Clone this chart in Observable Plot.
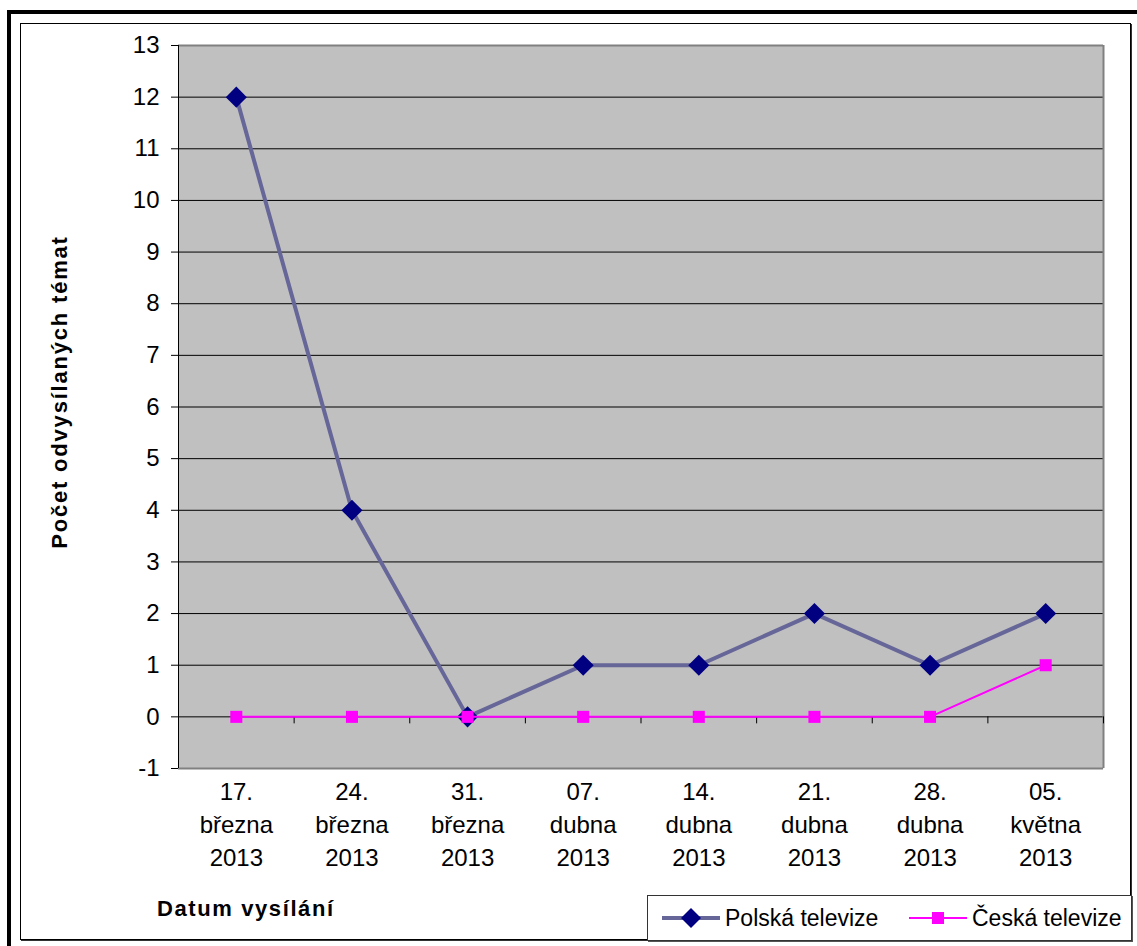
<!DOCTYPE html>
<html><head><meta charset="utf-8">
<script src="https://cdn.jsdelivr.net/npm/d3@7"></script>
<script src="https://cdn.jsdelivr.net/npm/@observablehq/plot@0.6"></script>
<style>
body{margin:0;background:#fff;}
#wrap{position:relative;width:1137px;height:946px;overflow:hidden;font-family:"Liberation Sans",Arial,sans-serif;color:#000;}
#chart{position:absolute;left:0;top:0;}
#outer{position:absolute;left:7px;top:10px;width:1200px;height:1000px;border-left:4px solid #000;border-top:4px solid #000;pointer-events:none;}
#inner{position:absolute;left:20px;top:23px;width:1109px;height:915px;border:1px solid #000;box-shadow:1px 1px 0 #333;pointer-events:none;}
#ytitle{position:absolute;left:60px;top:392px;transform:translate(-50%,-50%) rotate(-90deg);font-weight:bold;font-size:22px;letter-spacing:1.8px;white-space:nowrap;}
#xtitle{position:absolute;left:157px;top:896px;font-weight:bold;font-size:22px;letter-spacing:1.6px;white-space:nowrap;}
#legend{position:absolute;left:647px;top:895px;width:483px;height:44px;border:1px solid #333;background:#fff;box-shadow:1px 1px 0 #555;}
.item{position:absolute;top:0;height:44px;display:flex;align-items:center;font-size:23px;white-space:nowrap;}
.item svg{display:block;margin-right:5px;}
</style></head>
<body>
<div id="wrap">
  <div id="chart"></div>
  <div id="outer"></div>
  <div id="inner"></div>
  <div id="ytitle">Počet odvysílaných témat</div>
  <div id="xtitle">Datum vysílání</div>
  <div id="legend"></div>
</div>
<script>
const dates = ["17.\nbřezna\n2013","24.\nbřezna\n2013","31.\nbřezna\n2013","07.\ndubna\n2013","14.\ndubna\n2013","21.\ndubna\n2013","28.\ndubna\n2013","05.\nkvětna\n2013"];
const polska = [12, 4, 0, 1, 1, 2, 1, 2];
const ceska = [0, 0, 0, 0, 0, 0, 0, 1];
const yTicks = [-1,0,1,2,3,4,5,6,7,8,9,10,11,12,13];
const seriesNames = ["Polská televize", "Česká televize"];
const lineColors = ["#666699", "#FF00FF"];
const markColors = ["#000080", "#FF00FF"];

const idx = d3.range(dates.length);
const bounds = idx.map(i => i + 0.5);

const chart = Plot.plot({
  width: 1137, height: 946,
  marginLeft: 178, marginRight: 34, marginTop: 45, marginBottom: 178,
  style: {background: "transparent", fontFamily: "Liberation Sans, Arial, sans-serif", color: "#000"},
  x: {domain: [-0.5, dates.length - 0.5], axis: null},
  y: {domain: [yTicks[0], yTicks[yTicks.length - 1]], axis: null},
  marks: [
    Plot.frame({fill: "#C0C0C0", stroke: null}),
    Plot.ruleY(yTicks.slice(1, -1), {stroke: "#000", strokeWidth: 1}),
    Plot.ruleY([yTicks[0], yTicks[yTicks.length - 1]], {stroke: "#808080", strokeWidth: 2}),
    Plot.ruleX([dates.length - 0.5], {stroke: "#808080", strokeWidth: 2}),
    Plot.ruleX([-0.5], {stroke: "#000", strokeWidth: 1}),
    Plot.ruleX(bounds, {x: d => d, y1: 0, y2: 0, insetBottom: -7, stroke: "#000", strokeWidth: 1}),
    Plot.axisY({ticks: yTicks, tickSize: 7, tickPadding: 12, fontSize: 24, tickFormat: d => String(d), stroke: "#000", fill: "#000"}),
    Plot.line(idx, {x: i => i, y: i => polska[i], stroke: lineColors[0], strokeWidth: 4}),
    Plot.dot(idx, {x: i => i, y: i => polska[i], symbol: "diamond2", r: 9.5, fill: markColors[0], stroke: null}),
    Plot.line(idx, {x: i => i, y: i => ceska[i], stroke: lineColors[1], strokeWidth: 2}),
    Plot.dot(idx, {x: i => i, y: i => ceska[i], symbol: "square", r: 6.8, fill: markColors[1], stroke: null}),
    Plot.text(idx, {x: i => i, y: yTicks[0], text: i => dates[i], lineAnchor: "top", dy: 8, fontSize: 24, lineHeight: 1.375, fill: "#000"})
  ]
});
document.getElementById("chart").appendChild(chart);

// legend
const legend = document.getElementById("legend");
const symbols = ["diamond", "square"];
const lefts = [14, 261];
seriesNames.forEach((name, k) => {
  const item = document.createElement("div");
  item.className = "item";
  item.style.left = lefts[k] + "px";
  const ns = "http://www.w3.org/2000/svg";
  const svg = document.createElementNS(ns, "svg");
  svg.setAttribute("width", 58); svg.setAttribute("height", 24);
  const ln = document.createElementNS(ns, "line");
  ln.setAttribute("x1", 0); ln.setAttribute("x2", 58); ln.setAttribute("y1", 12); ln.setAttribute("y2", 12);
  ln.setAttribute("stroke", lineColors[k]); ln.setAttribute("stroke-width", k === 0 ? 4 : 2);
  svg.appendChild(ln);
  if (symbols[k] === "diamond") {
    const p = document.createElementNS(ns, "path");
    p.setAttribute("d", "M29,2L39,12L29,22L19,12Z");
    p.setAttribute("fill", markColors[k]);
    svg.appendChild(p);
  } else {
    const r = document.createElementNS(ns, "rect");
    r.setAttribute("x", 23); r.setAttribute("y", 6); r.setAttribute("width", 12); r.setAttribute("height", 12);
    r.setAttribute("fill", markColors[k]);
    svg.appendChild(r);
  }
  item.appendChild(svg);
  const t = document.createElement("span");
  t.textContent = name;
  item.appendChild(t);
  legend.appendChild(item);
});
</script>
</body></html>
